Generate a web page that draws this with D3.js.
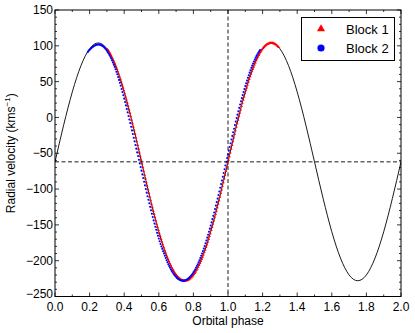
<!DOCTYPE html>
<html>
<head>
<meta charset="utf-8">
<script src="https://cdn.jsdelivr.net/npm/d3@7"></script>
<style>
  body { margin: 0; background: #fff; }
  svg { display: block; font-family: "Liberation Sans", Arial, sans-serif; }
</style>
</head>
<body>
<div id="chart"></div>
<script>
// model curve, sampled every 0.025 in phase from 0 to 2
const modelStep = 0.025;
const modelVel = [
  -62.0, -36.0, -10.7, 13.4, 35.6, 55.4, 72.3, 85.9, 95.9, 102.0, 104.0, 102.0, 95.9, 85.9, 72.3, 55.4, 35.6, 13.4, -10.7, -36.0,
  -62.0, -88.0, -113.3, -137.4, -159.6, -179.4, -196.3, -209.9, -219.9, -226.0, -228.0, -226.0, -219.9, -209.9, -196.3, -179.4, -159.6, -137.4, -113.3, -88.0,
  -62.0, -36.0, -10.7, 13.4, 35.6, 55.4, 72.3, 85.9, 95.9, 102.0, 104.0, 102.0, 95.9, 85.9, 72.3, 55.4, 35.6, 13.4, -10.7, -36.0,
  -62.0, -88.0, -113.3, -137.4, -159.6, -179.4, -196.3, -209.9, -219.9, -226.0, -228.0, -226.0, -219.9, -209.9, -196.3, -179.4, -159.6, -137.4, -113.3, -88.0,
  -62.0
];

// Block 1 (red triangles): phases start at 0.3025, step 0.005
const block1Start = 0.3025;
const block1Step = 0.005;
const block1Vel = [
  95.0, 93.3, 91.4, 89.3, 87.1, 84.7, 82.2, 79.5, 76.7, 73.8, 70.7, 67.6, 64.2, 60.8, 57.2, 53.5, 49.7, 45.8, 41.8, 37.7,
  33.5, 29.1, 24.7, 20.2, 15.7, 11.0, 6.3, 1.5, -3.3, -8.2, -13.2, -18.2, -23.2, -28.3, -33.5, -38.6, -43.8, -49.0, -54.2, -59.4,
  -64.6, -69.8, -75.0, -80.2, -85.4, -90.5, -95.7, -100.8, -105.8, -110.8, -115.8, -120.7, -125.5, -130.3, -135.0, -139.7, -144.2, -148.7, -153.1, -157.5,
  -161.7, -165.8, -169.8, -173.7, -177.5, -181.2, -184.8, -188.2, -191.6, -194.7, -197.8, -200.7, -203.5, -206.2, -208.7, -211.1, -213.3, -215.4, -217.3, -219.0,
  -220.7, -222.1, -223.4, -224.6, -225.5, -226.3, -227.0, -227.5, -227.8, -228.0,
  -228.0, -227.8, -227.5, -227.0, -226.3, -225.5, -224.6, -223.4, -222.1, -220.7,
  -219.0, -217.3, -215.4, -213.3, -211.1, -208.7, -206.2, -203.5, -200.7, -197.8, -194.7, -191.6, -188.2, -184.8, -181.2, -177.5, -173.7, -169.8, -165.8, -161.7,
  -157.5, -153.1, -148.7, -144.2, -139.7, -135.0, -130.3, -125.5, -120.7, -115.8, -110.8, -105.8, -100.8, -95.7, -90.5, -85.4, -80.2, -75.0, -69.8, -64.6,
  -59.4, -54.2, -49.0, -43.8, -38.6, -33.5, -28.3, -23.2, -18.2, -13.2, -8.2, -3.3, 1.5, 6.3, 11.0, 15.7, 20.2, 24.7, 29.1, 33.5,
  37.7, 41.8, 45.8, 49.7, 53.5, 57.2, 60.8, 64.2, 67.6, 70.7, 73.8, 76.7, 79.5, 82.2, 84.7, 87.1, 89.3, 91.4, 93.3, 95.0,
  96.7, 98.1, 99.4, 100.6, 101.5, 102.3, 103.0, 103.5, 103.8, 104.0,
  104.0, 103.8, 103.5, 103.0, 102.3, 101.5, 100.6, 99.4, 98.1
];

// Block 2 (blue circles): phases start at 0.19, step 0.005
const block2Start = 0.19;
const block2Step = 0.005;
const block2Vel = [
  91.5, 93.0, 94.3, 95.6, 96.8, 97.9, 98.8, 99.7, 100.3, 100.9, 101.4, 101.7, 101.9,
  101.8, 101.6, 101.2, 100.6, 99.8, 98.9, 97.8, 96.4, 94.9, 93.2, 91.2, 89.2, 87.1, 84.8, 82.3, 79.6, 76.8, 73.7, 70.6, 67.2,
  63.8, 60.2, 56.4, 52.4, 48.4, 44.2, 39.8, 35.4, 30.9, 26.2, 21.6, 16.8, 11.9, 7.1, 2.1, -2.9, -7.9,
  -13.0, -18.1, -23.2, -28.3, -33.4, -38.5, -43.6, -48.8, -53.9, -59.0, -64.1, -69.2, -74.3,
  -79.5, -84.6, -89.7, -94.8, -99.9, -105.0, -110.0, -115.0, -119.9, -124.8, -129.6, -134.4, -139.1, -143.7, -148.2, -152.6,
  -156.9, -161.1, -165.1, -169.1, -172.9, -176.6, -180.1, -183.5, -186.8, -189.9, -193.2, -196.3, -199.3, -202.2, -204.9,
  -207.5, -209.9, -212.2, -214.3, -216.3, -218.2, -219.9, -221.4, -222.8, -224.0, -225.1, -226.0, -226.7, -227.3, -227.7, -227.9, -228.0,
  -227.9, -227.7, -227.3, -226.7, -226.0, -225.1, -224.0, -222.8, -221.4, -219.9, -218.2, -216.3, -214.3, -212.2, -209.9,
  -207.5, -204.9, -202.2, -199.3, -196.3, -193.2, -189.9, -186.5, -183.0, -179.4, -175.6, -171.8, -167.8, -163.7, -159.6,
  -155.3, -150.9, -146.5, -142.0, -137.4, -132.7, -127.9, -123.1, -118.2, -113.3, -108.3, -103.3, -98.2, -93.1, -88.0,
  -82.8, -77.6, -72.4, -67.2, -62.0,
  -56.8, -51.6, -46.4, -41.2, -36.0, -30.9, -25.8, -20.7, -15.7, -10.7, -5.8, -0.9, 3.9, 8.7, 13.4, 18.0, 22.5, 26.9, 31.3, 35.6,
  39.7, 43.8, 47.8, 51.6, 55.4, 59.0, 62.5, 65.9, 69.2, 72.3, 75.3, 78.2, 80.9, 83.5, 85.9, 88.2, 90.3, 92.3, 94.2
];

const gammaVel = -62;      // horizontal dashed line
const markPhase = 1.0;     // vertical dashed line
const xTicks = [0.0, 0.2, 0.4, 0.6, 0.8, 1.0, 1.2, 1.4, 1.6, 1.8, 2.0];
const yTicks = [-250, -200, -150, -100, -50, 0, 50, 100, 150];
const legendNames = ["Block 1", "Block 2"];
const legendColors = ["#ff0000", "#0000ff"];

const width = 415, height = 333;
const margin = { top: 10, right: 14, bottom: 36, left: 55 };

const svg = d3.select("#chart").append("svg")
  .attr("width", width)
  .attr("height", height);

const x = d3.scaleLinear().domain([0, 2]).range([margin.left, width - margin.right]);
const y = d3.scaleLinear().domain([-250, 150]).range([height - margin.bottom - 0.5, margin.top]);

const toPoints = (start, step, vals) => vals.map((v, i) => ({ p: start + i * step, v: v }));
const model = toPoints(0, modelStep, modelVel);
const block1 = toPoints(block1Start, block1Step, block1Vel);
const block2 = toPoints(block2Start, block2Step, block2Vel);

svg.append("clipPath").attr("id", "clip")
  .append("rect")
  .attr("x", x(0)).attr("y", y(150))
  .attr("width", x(2) - x(0)).attr("height", y(-250) - y(150));

const plot = svg.append("g").attr("clip-path", "url(#clip)");

// model curve
plot.append("path")
  .datum(model)
  .attr("fill", "none")
  .attr("stroke", "#000")
  .attr("stroke-width", 0.9)
  .attr("d", d3.line().x(d => x(d.p)).y(d => y(d.v)).curve(d3.curveNatural));

// dashed reference lines
plot.append("line")
  .attr("x1", x(0)).attr("x2", x(2))
  .attr("y1", y(gammaVel)).attr("y2", y(gammaVel))
  .attr("stroke", "#000").attr("stroke-width", 0.9)
  .attr("stroke-dasharray", "4,2.5");
plot.append("line")
  .attr("x1", x(markPhase)).attr("x2", x(markPhase))
  .attr("y1", y(150)).attr("y2", y(-250))
  .attr("stroke", "#000").attr("stroke-width", 0.9)
  .attr("stroke-dasharray", "4,2.5");

const tri = d3.symbol().type(d3.symbolTriangle);

plot.append("g").selectAll("path")
  .data(block1)
  .join("path")
  .attr("transform", d => `translate(${x(d.p)},${y(d.v)})`)
  .attr("d", tri.size(4))
  .attr("fill", legendColors[0]);

plot.append("g").selectAll("circle")
  .data(block2)
  .join("circle")
  .attr("cx", d => x(d.p))
  .attr("cy", d => y(d.v))
  .attr("r", 1.05)
  .attr("fill", legendColors[1]);

// frame
svg.append("rect")
  .attr("x", x(0)).attr("y", y(150))
  .attr("width", x(2) - x(0)).attr("height", y(-250) - y(150))
  .attr("fill", "none")
  .attr("stroke", "#000")
  .attr("stroke-width", 1);

// ticks, inward on all four sides
const ticks = svg.append("g").attr("stroke", "#000").attr("stroke-width", 0.8);
const xMinor = d3.range(0, 2.001, 0.1);
const yMinor = d3.range(-250, 150.1, 10);
xMinor.forEach(t => {
  const len = xTicks.some(m => Math.abs(m - t) < 1e-6) ? 4 : 2;
  ticks.append("line").attr("x1", x(t)).attr("x2", x(t)).attr("y1", y(-250)).attr("y2", y(-250) - len);
  ticks.append("line").attr("x1", x(t)).attr("x2", x(t)).attr("y1", y(150)).attr("y2", y(150) + len);
});
yMinor.forEach(t => {
  const len = yTicks.includes(t) ? 4 : 2;
  ticks.append("line").attr("x1", x(0)).attr("x2", x(0) + len).attr("y1", y(t)).attr("y2", y(t));
  ticks.append("line").attr("x1", x(2)).attr("x2", x(2) - len).attr("y1", y(t)).attr("y2", y(t));
});

// tick labels
svg.append("g").selectAll("text")
  .data(xTicks)
  .join("text")
  .attr("x", d => x(d))
  .attr("y", y(-250) + 14)
  .attr("text-anchor", "middle")
  .attr("font-size", 12)
  .text(d => d3.format(".1f")(d));

svg.append("g").selectAll("text")
  .data(yTicks)
  .join("text")
  .attr("x", x(0) - 2)
  .attr("y", d => y(d) - (d === -250 ? 2.5 : 0))
  .attr("dy", "0.35em")
  .attr("text-anchor", "end")
  .attr("font-size", 12)
  .text(d => d < 0 ? "\u2212" + Math.abs(d) : d);

// axis titles
svg.append("text")
  .attr("x", x(1))
  .attr("y", height - 8)
  .attr("text-anchor", "middle")
  .attr("font-size", 12)
  .text("Orbital phase");

const yl = svg.append("text")
  .attr("transform", `translate(15,${(y(150) + y(-250)) / 2}) rotate(-90)`)
  .attr("text-anchor", "middle")
  .attr("font-size", 12);
yl.append("tspan").text("Radial velocity (kms");
yl.append("tspan").attr("font-size", 8).attr("dy", -5).text("\u22121");
yl.append("tspan").attr("dy", 5).text(")");

// legend
const lg = svg.append("g");
lg.append("rect")
  .attr("x", 301.5).attr("y", 17.5)
  .attr("width", 93).attr("height", 43)
  .attr("fill", "#fff")
  .attr("stroke", "#000")
  .attr("stroke-width", 1);
legendNames.forEach((name, i) => {
  const cy = 29 + i * 19;
  if (i === 0) {
    lg.append("path")
      .attr("transform", `translate(321,${cy})`)
      .attr("d", d3.symbol().type(d3.symbolTriangle).size(28)())
      .attr("fill", legendColors[i]);
  } else {
    lg.append("circle").attr("cx", 321).attr("cy", cy).attr("r", 3.6).attr("fill", legendColors[i]);
  }
  lg.append("text")
    .attr("x", 346).attr("y", cy)
    .attr("dy", "0.35em")
    .attr("font-size", 13)
    .text(name);
});
</script>
</body>
</html>
